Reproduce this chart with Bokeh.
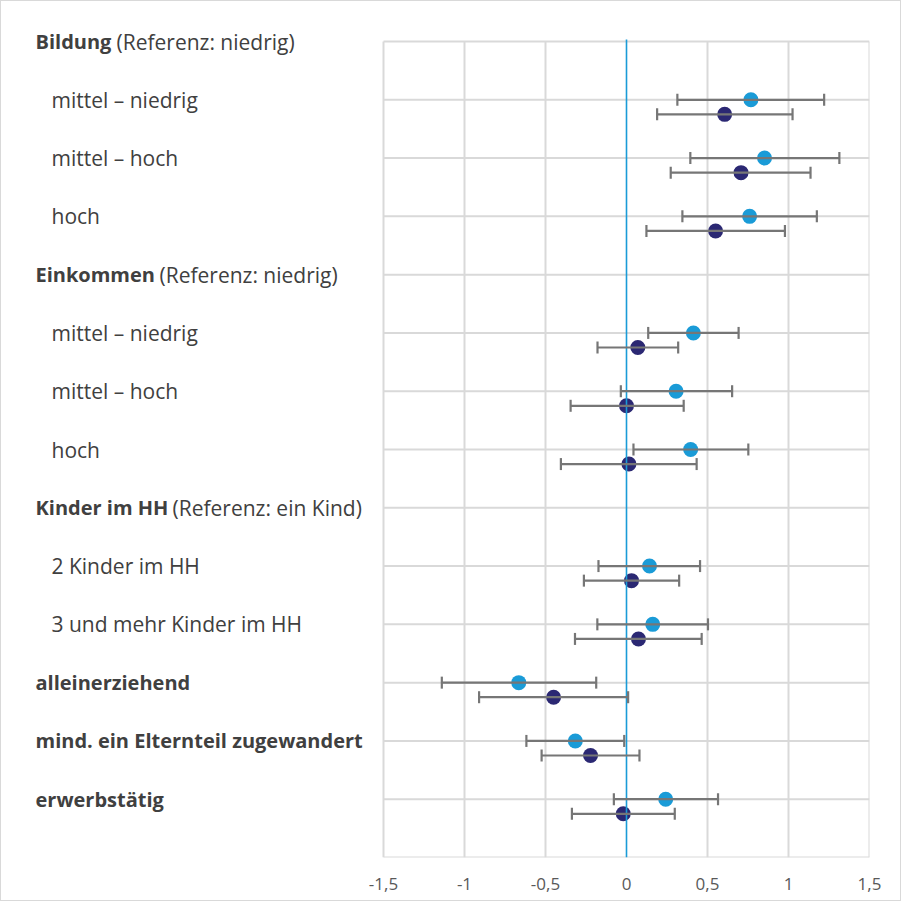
from bokeh.plotting import figure
from bokeh.models import ColumnDataSource, Whisker, TeeHead, FixedTicker, Range1d
from bokeh.core.properties import value
from bokeh.embed import file_html
from bokeh.resources import INLINE

# ---------------- data ----------------
row_pos = [14, 13, 12, 11, 10, 9, 8, 7, 6, 5, 4, 3, 2, 1]
row_bold = ["Bildung", "", "", "", "Einkommen", "", "", "", "Kinder im HH", "", "",
            "alleinerziehend", "mind. ein Elternteil zugewandert", "erwerbstätig"]
row_plain = ["(Referenz: niedrig)", "mittel – niedrig", "mittel – hoch", "hoch",
             "(Referenz: niedrig)", "mittel – niedrig", "mittel – hoch", "hoch",
             "(Referenz: ein Kind)", "2 Kinder im HH", "3 und mehr Kinder im HH",
             "", "", ""]

data_rows = [13, 12, 11, 9, 8, 7, 5, 4, 3, 2, 1]
a_est = [0.768, 0.852, 0.760, 0.413, 0.306, 0.396, 0.142, 0.162, -0.665, -0.316, 0.242]
a_low = [0.314, 0.394, 0.345, 0.134, -0.035, 0.043, -0.173, -0.180, -1.140, -0.618, -0.078]
a_high = [1.220, 1.314, 1.175, 0.692, 0.652, 0.752, 0.454, 0.503, -0.187, -0.014, 0.565]
b_est = [0.606, 0.707, 0.550, 0.070, 0.000, 0.015, 0.031, 0.074, -0.450, -0.222, -0.020]
b_low = [0.189, 0.273, 0.123, -0.179, -0.345, -0.405, -0.263, -0.318, -0.910, -0.524, -0.337]
b_high = [1.025, 1.136, 0.978, 0.319, 0.353, 0.433, 0.325, 0.464, 0.010, 0.080, 0.298]
b_offset = 0.25

x_ticks = [-1.5, -1.0, -0.5, 0.0, 0.5, 1.0, 1.5]
x_tick_labels = ["-1,5", "-1", "-0,5", "0", "0,5", "1", "1,5"]
y_lines = list(range(0, 15))

# ---------------- styling / layout ----------------
LIGHT = "#1a9bd7"
DARK = "#2b2873"
BAR = "#767676"
GRID = "#d9d9d9"
TXT = "#404040"
FONT = "Open Sans"

W, H = 901, 901
LABEL_W = 382          # px left of plot area
TOP, BOTTOM, RIGHT = 40, 45, 33
XMIN, XMAX = x_ticks[0], x_ticks[-1]
YMIN, YMAX = y_lines[0], y_lines[-1]
plot_w = W - LABEL_W - RIGHT
plot_h = H - TOP - BOTTOM
xpx = plot_w / (XMAX - XMIN)
ypx = plot_h / (YMAX - YMIN)
x_start = XMIN - LABEL_W / xpx
y_end = YMAX + TOP / ypx


def sx(px):
    """screen offset (px from left edge) -> data x"""
    return x_start + px / xpx


p = figure(width=W, height=H, output_backend="svg", toolbar_location=None,
           x_range=Range1d(x_start, XMAX), y_range=Range1d(YMIN, y_end),
           min_border_left=0, min_border_right=RIGHT, min_border_top=0,
           min_border_bottom=BOTTOM)
p.styles = {"border": "1.5px solid #d9d9d9"}
p.outline_line_color = None
p.grid.visible = False
p.yaxis.visible = False

p.xaxis.ticker = FixedTicker(ticks=x_ticks)
p.xaxis.major_label_overrides = {t: l for t, l in zip(x_ticks, x_tick_labels)}
p.xaxis.axis_line_color = None
p.xaxis.major_tick_line_color = None
p.xaxis.minor_tick_line_color = None
p.xaxis.major_label_text_font = FONT
p.xaxis.major_label_text_font_size = "17px"
p.xaxis.major_label_text_color = "#595959"
p.xaxis.major_label_standoff = 14

# grid lines of the plot area
gx = [t for t in x_ticks if t != 0]
p.segment(x0=gx, y0=[YMIN] * len(gx), x1=gx, y1=[YMAX] * len(gx),
          line_color=GRID, line_width=2)
p.segment(x0=[XMIN] * len(y_lines), y0=y_lines, x1=[XMAX] * len(y_lines), y1=y_lines,
          line_color=GRID, line_width=2)

src_a = ColumnDataSource(dict(y=data_rows, x=a_est, lo=a_low, hi=a_high))
src_b = ColumnDataSource(dict(y=[r - b_offset for r in data_rows], x=b_est, lo=b_low, hi=b_high))

for src in (src_a, src_b):
    w = Whisker(source=src, base="y", lower="lo", upper="hi", dimension="width",
                line_color=BAR, line_width=2.2, level="glyph",
                upper_head=TeeHead(size=12, line_color=BAR, line_width=2.2),
                lower_head=TeeHead(size=12, line_color=BAR, line_width=2.2))
    p.add_layout(w)

p.scatter("x", "y", source=src_a, size=15, color=LIGHT, line_color=None)
p.scatter("x", "y", source=src_b, size=15, color=DARK, line_color=None)

# zero reference line
p.segment(x0=[0], y0=[YMIN], x1=[0], y1=[YMAX + 2 / ypx], line_color=LIGHT, line_width=1.6)

# row labels
bold_w = {"Bildung": 81, "Einkommen": 124, "Kinder im HH": 137}
bx, by, bt = [], [], []
nx, ny, nt = [], [], []
for y, b, t in zip(row_pos, row_bold, row_plain):
    if b:
        bx.append(sx(34)); by.append(y); bt.append(b)
        if t:
            nx.append(sx(34 + bold_w[b])); ny.append(y); nt.append(t)
    else:
        nx.append(sx(50)); ny.append(y); nt.append(t)

p.text(x=bx, y=by, text=bt, text_font=value(FONT), text_font_style="bold",
       text_font_size="20px", text_color=TXT, text_baseline="middle", text_align="left")
p.text(x=nx, y=ny, text=nt, text_font=value(FONT),
       text_font_size="21px", text_color=TXT, text_baseline="middle", text_align="left")

open("out.html", "w").write(file_html(p, INLINE))
